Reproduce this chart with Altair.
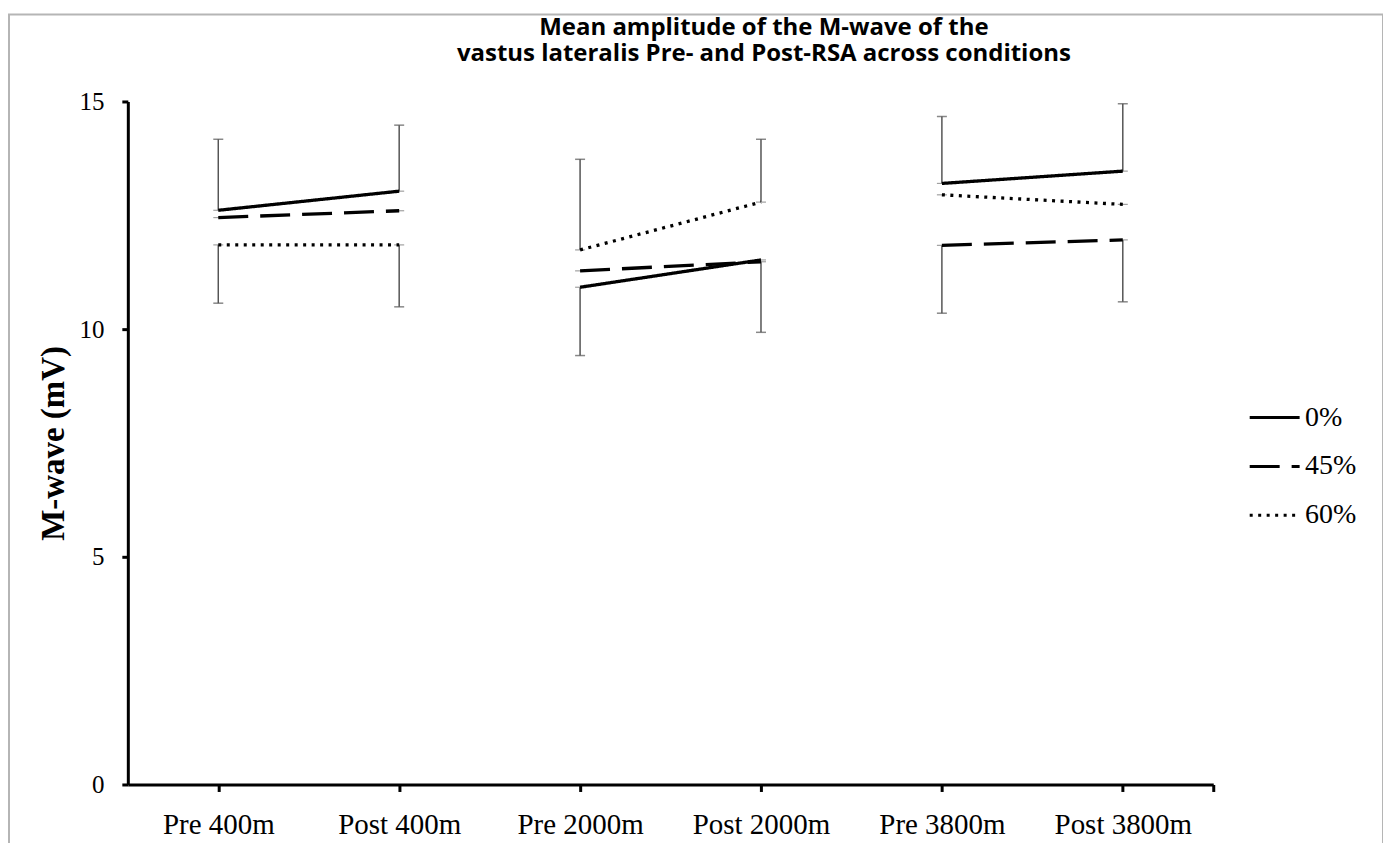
import json
import altair as alt
import pandas as pd

# ---- data ----
title_lines = ["Mean amplitude of the M-wave of the",
               "vastus lateralis Pre- and Post-RSA across conditions"]
categories = ["Pre 400m", "Post 400m", "Pre 2000m", "Post 2000m", "Pre 3800m", "Post 3800m"]
conditions = ["400m", "400m", "2000m", "2000m", "3800m", "3800m"]
series = ["0%", "45%", "60%"]
mean_0 = [12.61, 13.03, 10.92, 11.52, 13.20, 13.47]
mean_45 = [12.45, 12.60, 11.28, 11.48, 11.84, 11.96]
mean_60 = [11.85, 11.85, 11.74, 12.79, 12.95, 12.74]
upper_bar_end = [14.17, 14.48, 13.73, 14.17, 14.67, 14.95]
lower_bar_end = [10.57, 10.49, 9.42, 9.93, 10.35, 10.60]

rows = []
for name, vals in zip(series, [mean_0, mean_45, mean_60]):
    for i, (cat, cond, v) in enumerate(zip(categories, conditions, vals)):
        rows.append({"series": name, "pos": i + 0.5, "cat": cat, "cond": cond, "value": v})
df = pd.DataFrame(rows)

err_rows = []
for i in range(len(categories)):
    vals = [mean_0[i], mean_45[i], mean_60[i]]
    err_rows.append({"pos": i + 0.5, "start": max(vals), "end": upper_bar_end[i]})
    err_rows.append({"pos": i + 0.5, "start": min(vals), "end": lower_bar_end[i]})
err_df = pd.DataFrame(err_rows)

label_expr = "datum.value < 6 ? " + json.dumps(categories) + "[floor(datum.value)] : ''"

x_scale = alt.Scale(domain=[0, 6], nice=False, zero=False)
y_scale = alt.Scale(domain=[0, 15], nice=False)

x_axis = alt.Axis(values=[0.5, 1.5, 2.5, 3.5, 4.5, 5.5, 6], labelExpr=label_expr,
                  labelFontSize=29, labelPadding=19, tickSize=7, title=None,
                  labelFlush=False, labelOverlap=False)
y_axis = alt.Axis(values=[0, 5, 10, 15], labelFontSize=25, labelPadding=18, tickSize=6,
                  title="M-wave (mV)", titleFont="Liberation Serif", titleFontSize=33,
                  titleFontWeight="bold", titleColor="black", titlePadding=8)

X = alt.X("pos:Q", scale=x_scale, axis=x_axis)

frame = alt.Chart(pd.DataFrame({"a": [0]})).mark_rect(
    fillOpacity=0, stroke="#b5b5b5", strokeWidth=2
).encode(x=alt.value(-119), x2=alt.value(1257), y=alt.value(-87), y2=alt.value(760))

title = alt.Chart(pd.DataFrame({"a": [0]})).mark_text(
    text=title_lines, font="Open Sans", fontSize=24, fontWeight="bold", color="black",
    lineHeight=26, align="center", baseline="top"
).encode(x=alt.value(637), y=alt.value(-86))

ebars = alt.Chart(err_df).mark_rule(color="#555555", strokeWidth=1.5).encode(
    x=X, y=alt.Y("start:Q", scale=y_scale, axis=y_axis), y2="end:Q"
)
caps = alt.Chart(err_df).mark_tick(orient="horizontal", color="#555555", size=10, thickness=1.5).encode(
    x=X, y=alt.Y("end:Q", scale=y_scale, axis=y_axis)
)
point_caps = alt.Chart(df).mark_tick(orient="horizontal", color="#777777", size=10, thickness=1.2).encode(
    x=X, y=alt.Y("value:Q", scale=y_scale, axis=y_axis)
)

lines = alt.Chart(df).mark_line(color="black", strokeWidth=3.3).encode(
    x=X,
    y=alt.Y("value:Q", scale=y_scale, axis=y_axis),
    strokeDash=alt.StrokeDash(
        "series:N",
        scale=alt.Scale(domain=series, range=[[1, 0], [30, 12], [3, 5.5]]),
        legend=alt.Legend(orient="none", legendX=1122, legendY=290, title=None,
                          labelFont="Liberation Serif", labelFontSize=28, labelColor="black",
                          symbolType="stroke", symbolSize=2500, symbolStrokeWidth=3,
                          symbolStrokeColor="black", labelOffset=4, rowPadding=8),
    ),
    detail="cond:N",
)

chart = alt.layer(frame, title, ebars, caps, point_caps, lines).properties(
    width=1087, height=684,
    autosize=alt.AutoSizeParams(type="none"),
    padding={"left": 120, "top": 93, "right": 170, "bottom": 58},
    background="white",
).configure_axis(
    domainColor="black", domainWidth=3, tickColor="black", tickWidth=3, grid=False,
    labelFont="Liberation Serif", labelColor="black",
).configure_legend(
    labelFont="Liberation Serif", labelColor="black",
).configure_view(stroke=None)

chart.save("out.html", embed_options={"renderer": "svg", "actions": False})
